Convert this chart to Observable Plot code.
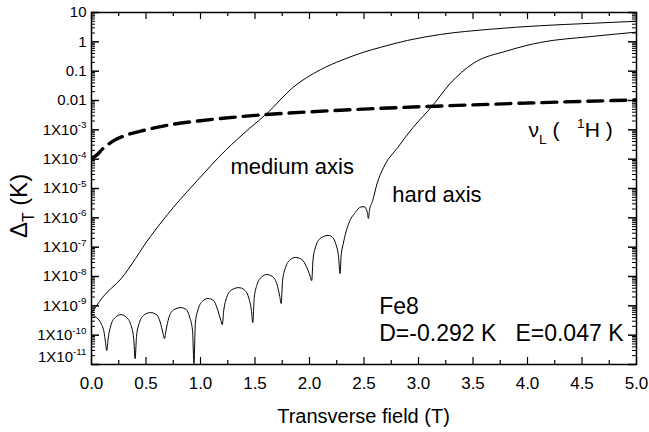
<!DOCTYPE html>
<html><head><meta charset="utf-8">
<script src="https://cdn.jsdelivr.net/npm/d3@7"></script>
<script src="https://cdn.jsdelivr.net/npm/@observablehq/plot@0.6"></script>
<style>html,body{margin:0;padding:0;background:#fff}</style>
</head><body><div id="chart"></div>
<script>
// ---- data ----
const fieldMedium = [0, 0.1, 0.27, 0.54, 0.75, 0.97, 1.23, 1.45, 1.61, 1.85, 2.10, 2.30, 2.50, 2.65, 2.9, 3.2, 3.66, 4.12, 4.58, 5.0];
const deltaMedium = [5.5e-10, 1.91e-9, 8.3e-9, 2.29e-7, 2.24e-6, 1.86e-5, 2.0e-4, 1.12e-3, 3.63e-3, 2.82e-2, 0.112, 0.240, 0.447, 0.646, 1.12, 1.78, 2.69, 3.55, 4.27, 5.01];

const fieldHard = [0, 0.03, 0.06, 0.09, 0.115, 0.127, 0.14, 0.153, 0.18, 0.22, 0.27, 0.32, 0.36, 0.387, 0.40,
  0.413, 0.44, 0.48, 0.54, 0.60, 0.63, 0.657, 0.67,
  0.683, 0.71, 0.75, 0.82, 0.87, 0.90, 0.927, 0.94,
  0.953, 0.98, 1.02, 1.07, 1.12, 1.15, 1.187, 1.20,
  1.213, 1.24, 1.28, 1.35, 1.40, 1.44, 1.467, 1.48,
  1.493, 1.52, 1.56, 1.61, 1.66, 1.70, 1.727, 1.74,
  1.753, 1.78, 1.82, 1.87, 1.93, 1.97, 2.007, 2.02,
  2.033, 2.06, 2.10, 2.17, 2.21, 2.24, 2.267, 2.28,
  2.29, 2.31, 2.36, 2.42, 2.47, 2.50, 2.53, 2.54,
  2.55, 2.58, 2.62, 2.68, 2.81, 2.95, 3.13, 3.29, 3.50, 3.82, 4.12, 4.58, 5.0];
const deltaHard = [4.68e-10, 4.37e-10, 3.55e-10, 2.40e-10, 1.26e-10, 6.3e-11, 3.0e-11, 7.8e-11, 2.29e-10, 4.07e-10, 5.0e-10, 4.07e-10, 2.29e-10, 7.8e-11, 1.58e-11,
  9.1e-11, 2.69e-10, 4.79e-10, 5.89e-10, 4.9e-10, 2.82e-10, 1.12e-10, 7.6e-11,
  1.41e-10, 3.98e-10, 7.08e-10, 8.7e-10, 7.4e-10, 4.17e-10, 1.41e-10, 1.05e-11,
  2.63e-10, 7.94e-10, 1.45e-9, 1.78e-9, 1.51e-9, 8.9e-10, 3.16e-10, 2.29e-10,
  6.8e-10, 1.91e-9, 3.39e-9, 4.17e-9, 3.55e-9, 2.0e-9, 7.08e-10, 2.69e-10,
  1.91e-9, 5.37e-9, 9.55e-9, 1.17e-8, 1.0e-8, 5.62e-9, 2.09e-9, 1.2e-9,
  7.24e-9, 2.0e-8, 3.63e-8, 4.47e-8, 3.8e-8, 2.24e-8, 1.0e-8, 7.24e-9,
  3.98e-8, 1.12e-7, 2.0e-7, 2.51e-7, 2.19e-7, 1.32e-7, 4.47e-8, 1.26e-8,
  5.0e-8, 1.32e-7, 6.46e-7, 1.51e-6, 2.34e-6, 2.4e-6, 1.58e-6, 9.5e-7,
  1.78e-6, 3.89e-6, 1.48e-5, 5.25e-5, 2.51e-4, 1.2e-3, 6.76e-3, 3.8e-2, 0.182, 0.50, 0.955, 1.51, 2.14];

const fieldProton = [0, 0.05, 0.1, 0.15, 0.2, 0.3, 0.5, 0.75, 1, 1.5, 2, 2.5, 3, 3.5, 4, 4.5, 5];
const deltaProton = [1.05e-4, 1.4e-4, 2.2e-4, 3.1e-4, 4.2e-4, 6.2e-4, 1.0e-3, 1.55e-3, 2.05e-3, 3.1e-3, 4.1e-3, 5.1e-3, 6.1e-3, 7.1e-3, 8.2e-3, 9.3e-3, 1.05e-2];

const xTicks = [0, 0.5, 1, 1.5, 2, 2.5, 3, 3.5, 4, 4.5, 5];
const xTickLabels = ["0.0", "0.5", "1.0", "1.5", "2.0", "2.5", "3.0", "3.5", "4.0", "4.5", "5.0"];
const xMinor = [0.25, 0.75, 1.25, 1.75, 2.25, 2.75, 3.25, 3.75, 4.25, 4.75];
const yTicks = [10, 1, 0.1, 0.01, 1e-3, 1e-4, 1e-5, 1e-6, 1e-7, 1e-8, 1e-9, 1e-10, 1e-11];
const yTickLabels = ["10", "1", "0.1", "0.01", "1X10^{-3}", "1X10^{-4}", "1X10^{-5}", "1X10^{-6}", "1X10^{-7}", "1X10^{-8}", "1X10^{-9}", "1X10^{-10}", "1X10^{-11}"];

// ---- build ----
const medium = fieldMedium.map((x, i) => ({x, y: deltaMedium[i]}));
const hard = fieldHard.map((x, i) => ({x, y: deltaHard[i]}));
const proton = fieldProton.map((x, i) => ({x, y: deltaProton[i]}));
const yMinor = [];
for (let e = -11; e < 1; e++) for (let k = 2; k <= 9; k++) yMinor.push(k * Math.pow(10, e));

const W = 649, H = 432, ML = 91, MR = 13, MT = 12, MB = 68;
const FW = W - ML - MR, FH = H - MT - MB;
const Y_TITLE = "Δ_{T} (K)", X_TITLE = "Transverse field (T)";

const svg = Plot.plot({
  width: W, height: H,
  marginLeft: ML, marginRight: MR, marginTop: MT, marginBottom: MB,
  style: {fontFamily: "'Liberation Sans', Arial, Helvetica, sans-serif", color: "black", background: "white"},
  x: {domain: [0, 5]},
  y: {type: "log", domain: [1e-11, 10]},
  marks: [
    Plot.line(proton, {x: "x", y: "y", stroke: "black", strokeWidth: 3.4, strokeDasharray: "15,8", curve: "monotone-x", clip: true}),
    Plot.line(medium, {x: "x", y: "y", stroke: "black", strokeWidth: 1, curve: "monotone-x", clip: true}),
    Plot.line(hard, {x: "x", y: "y", stroke: "black", strokeWidth: 1, curve: "monotone-x", clip: true}),
    Plot.tickX(xTicks, {x: d => d, insetTop: FH - 7, strokeWidth: 1.2}),
    Plot.tickX(xTicks, {x: d => d, insetBottom: FH - 7, strokeWidth: 1.2}),
    Plot.tickX(xMinor, {x: d => d, insetTop: FH - 4, strokeWidth: 1.2}),
    Plot.tickX(xMinor, {x: d => d, insetBottom: FH - 4, strokeWidth: 1.2}),
    Plot.tickY(yTicks, {y: d => d, insetRight: FW - 8, strokeWidth: 1.5}),
    Plot.tickY(yTicks, {y: d => d, insetLeft: FW - 8, strokeWidth: 1.5}),
    Plot.tickY(yMinor, {y: d => d, insetRight: FW - 4, strokeWidth: 1}),
    Plot.tickY(yMinor, {y: d => d, insetLeft: FW - 4, strokeWidth: 1}),
    Plot.axisX(xTicks, {tickSize: 0, tickPadding: 12, fontSize: 17, label: null, tickFormat: d => xTickLabels[xTicks.indexOf(d)]}),
    Plot.axisY(yTicks, {tickSize: 0, tickPadding: 5, fontSize: 15, label: null, tickFormat: d => yTickLabels[yTicks.indexOf(d)]}),
    Plot.text([Y_TITLE], {frameAnchor: "left", rotate: -90, fontSize: 24}),
    Plot.text([X_TITLE], {frameAnchor: "bottom", fontSize: 20}),
    Plot.text(["medium axis"], {x: [1.275], y: [5.6e-5], text: d => d, textAnchor: "start", fontSize: 22}),
    Plot.text(["hard axis"], {x: [2.76], y: [5.8e-6], text: d => d, textAnchor: "start", fontSize: 22}),
    Plot.text(["ν_{L} (   ^{1}H )"], {x: [4.01], y: [9.5e-4], text: d => d, textAnchor: "start", fontSize: 21}),
    Plot.text(["Fe8"], {x: [2.64], y: [9.6e-10], text: d => d, textAnchor: "start", fontSize: 23}),
    Plot.text(["D=-0.292 K   E=0.047 K"], {x: [2.64], y: [1.15e-10], text: d => d, textAnchor: "start", fontSize: 23}),
    Plot.frame({stroke: "black", strokeWidth: 1.5})
  ]
});
document.getElementById("chart").appendChild(svg);

// ---- rich text (sub/superscripts) ----
const NS = "http://www.w3.org/2000/svg";
function richify(t) {
  const s = t.textContent;
  t.setAttribute("xml:space", "preserve");
  t.style.whiteSpace = "pre";
  if (!/[_^]\{/.test(s)) return;
  const base = parseFloat(getComputedStyle(t).fontSize) || 15;
  t.textContent = "";
  const re = /([_^])\{([^}]*)\}/g;
  let last = 0, shift = 0, m;
  const add = (str, kind) => {
    const sp = document.createElementNS(NS, "tspan");
    const target = kind === "^" ? -0.42 * base : kind === "_" ? 0.3 * base : 0;
    if (target !== shift) sp.setAttribute("dy", (target - shift).toFixed(2));
    shift = target;
    if (kind) sp.setAttribute("font-size", (0.65 * base).toFixed(1));
    sp.textContent = str;
    t.appendChild(sp);
  };
  while ((m = re.exec(s))) {
    if (m.index > last) add(s.slice(last, m.index), null);
    add(m[2], m[1]);
    last = re.lastIndex;
  }
  if (last < s.length) add(s.slice(last), null);
}
function placeCenter(t, cx, cy) {
  const r = t.getBoundingClientRect(), s = svg.getBoundingClientRect();
  const dx = cx - (r.left - s.left + r.width / 2), dy = cy - (r.top - s.top + r.height / 2);
  t.setAttribute("transform", `translate(${dx.toFixed(1)},${dy.toFixed(1)}) ` + (t.getAttribute("transform") || ""));
}
let yTitleEl = null, xTitleEl = null;
svg.querySelectorAll("text").forEach(t => {
  const s = t.textContent;
  richify(t);
  if (s === "1X10^{-11}") t.setAttribute("y", "-3");
  if (s === Y_TITLE) yTitleEl = t;
  if (s === X_TITLE) xTitleEl = t;
});
if (yTitleEl) placeCenter(yTitleEl, 21, 206);
if (xTitleEl) placeCenter(xTitleEl, 363.5, 416);
</script></body></html>
